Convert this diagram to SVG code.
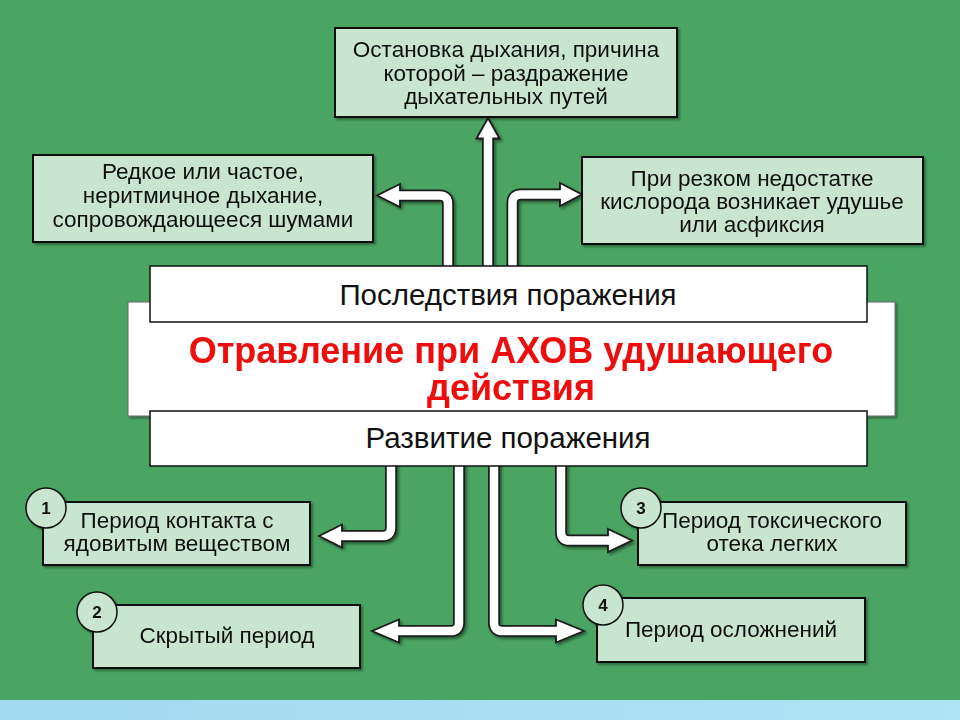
<svg xmlns="http://www.w3.org/2000/svg" width="960" height="720" viewBox="0 0 960 720">
  <defs>
    <linearGradient id="strip" x1="0" y1="0" x2="1" y2="0">
      <stop offset="0" stop-color="#a3d9f1"/>
      <stop offset="1" stop-color="#b0e2f5"/>
    </linearGradient>
    <filter id="shadow" x="-10%" y="-10%" width="130%" height="130%">
      <feDropShadow dx="2" dy="2" stdDeviation="1.5" flood-color="#000" flood-opacity="0.45"/>
    </filter>
    <filter id="boxshadow" x="-5%" y="-5%" width="115%" height="120%">
      <feDropShadow dx="2" dy="2" stdDeviation="1.2" flood-color="#000" flood-opacity="0.35"/>
    </filter>
  </defs>
  <style>
    .box { fill: #c8e6cf; stroke: #111; stroke-width: 2; }
    .wbox { fill: #ffffff; stroke: #111; stroke-width: 1.5; }
    .txt { font-family: "Liberation Sans", Arial, sans-serif; font-size: 22.5px; fill: #111; text-anchor: middle; }
    .mid { font-family: "Liberation Sans", Arial, sans-serif; font-size: 29.5px; fill: #111; text-anchor: middle; }
    .title { font-family: "Liberation Sans", Arial, sans-serif; font-size: 36px; font-weight: bold; fill: #ee1111; text-anchor: middle; }
    .num { font-family: "Liberation Sans", Arial, sans-serif; font-size: 17px; font-weight: bold; fill: #111; text-anchor: middle; }
    .circ { fill: #c8e6cf; stroke: #111; stroke-width: 1.5; }
    .sh-out { fill: none; stroke: #1a1a1a; stroke-width: 12; stroke-linejoin: round; }
    .sh-in { fill: none; stroke: #ffffff; stroke-width: 8.5; stroke-linejoin: round; }
    .head { fill: #ffffff; stroke: #1a1a1a; stroke-width: 1.8; stroke-linejoin: miter; }
  </style>

  <rect x="0" y="0" width="960" height="700" fill="#4aa563"/>
  <rect x="0" y="700" width="960" height="20" fill="url(#strip)"/>

  <g id="connectors" filter="url(#shadow)">
    <!-- up -->
    <path class="sh-out" d="M488,268 V138"/>
    <polygon class="head" points="476.5,138.5 488,118 499.5,138.5"/>
    <path class="sh-in" d="M488,268 V136"/>
    <!-- upper left -->
    <path class="sh-out" d="M448,268 V204 Q448,195.5 439.5,195.5 H400"/>
    <polygon class="head" points="400,184 377,195.5 400,207"/>
    <path class="sh-in" d="M448,268 V204 Q448,195.5 439.5,195.5 H398"/>
    <!-- upper right -->
    <path class="sh-out" d="M512.5,268 V203 Q512.5,194.5 521,194.5 H560"/>
    <polygon class="head" points="560,183 582,194.5 560,206"/>
    <path class="sh-in" d="M512.5,268 V203 Q512.5,194.5 521,194.5 H562"/>
    <!-- bottom 1 -->
    <path class="sh-out" d="M391,462 V527.5 Q391,536 382.5,536 H342"/>
    <polygon class="head" points="342,524.5 319,536 342,547.5"/>
    <path class="sh-in" d="M391,462 V527.5 Q391,536 382.5,536 H340"/>
    <!-- bottom 2 -->
    <path class="sh-out" d="M459,462 V622.5 Q459,631 450.5,631 H399"/>
    <polygon class="head" points="399,619.5 372,631 399,642.5"/>
    <path class="sh-in" d="M459,462 V622.5 Q459,631 450.5,631 H397"/>
    <!-- bottom 4 -->
    <path class="sh-out" d="M494,462 V622.5 Q494,631 502.5,631 H556"/>
    <polygon class="head" points="556,619.5 584,631 556,642.5"/>
    <path class="sh-in" d="M494,462 V622.5 Q494,631 502.5,631 H558"/>
    <!-- bottom 3 -->
    <path class="sh-out" d="M561,462 V532 Q561,540.5 569.5,540.5 H608"/>
    <polygon class="head" points="608,529 632,540.5 608,552"/>
    <path class="sh-in" d="M561,462 V532 Q561,540.5 569.5,540.5 H610"/>
  </g>

  <g id="node-top" filter="url(#boxshadow)">
    <rect class="box" x="335" y="28" width="342" height="89"/>
    <text class="txt" x="506" y="57">Остановка дыхания, причина</text>
    <text class="txt" x="506" y="81">которой – раздражение</text>
    <text class="txt" x="506" y="104">дыхательных путей</text>
  </g>

  <g id="node-left" filter="url(#boxshadow)">
    <rect class="box" x="33" y="155" width="340" height="87"/>
    <text class="txt" x="203" y="179">Редкое или частое,</text>
    <text class="txt" x="203" y="203">неритмичное дыхание,</text>
    <text class="txt" x="203" y="227">сопровождающееся шумами</text>
  </g>

  <g id="node-right" filter="url(#boxshadow)">
    <rect class="box" x="582" y="157" width="341" height="87"/>
    <text class="txt" x="752" y="186">При резком недостатке</text>
    <text class="txt" x="752" y="209">кислорода возникает удушье</text>
    <text class="txt" x="752" y="232">или асфиксия</text>
  </g>

  <g id="node-center" filter="url(#boxshadow)">
    <rect x="128" y="302" width="767" height="114" fill="#ffffff" stroke="#666" stroke-width="1"/>
    <text class="title"><tspan x="511" y="363">Отравление при АХОВ удушающего</tspan><tspan x="511" y="400">действия</tspan></text>
  </g>

  <g id="node-consequences">
    <rect class="wbox" x="150" y="266" width="717" height="56"/>
    <text class="mid" x="508" y="305">Последствия поражения</text>
  </g>

  <g id="node-development">
    <rect class="wbox" x="150" y="411" width="717" height="55"/>
    <text class="mid" x="508" y="448">Развитие поражения</text>
  </g>

  <g id="node-1" filter="url(#boxshadow)">
    <rect class="box" x="43" y="502" width="267" height="63"/>
    <text class="txt" x="177" y="528">Период контакта с</text>
    <text class="txt" x="177" y="551">ядовитым веществом</text>
    <circle class="circ" cx="46" cy="508" r="20"/>
    <text class="num" x="46" y="514">1</text>
  </g>

  <g id="node-2" filter="url(#boxshadow)">
    <rect class="box" x="93" y="605" width="267" height="63"/>
    <text class="txt" x="227" y="643">Скрытый период</text>
    <circle class="circ" cx="97" cy="612" r="20"/>
    <text class="num" x="97" y="618">2</text>
  </g>

  <g id="node-3" filter="url(#boxshadow)">
    <rect class="box" x="638" y="502" width="268" height="63"/>
    <text class="txt" x="772" y="528">Период токсического</text>
    <text class="txt" x="772" y="551">отека легких</text>
    <circle class="circ" cx="641" cy="508" r="20"/>
    <text class="num" x="641" y="514">3</text>
  </g>

  <g id="node-4" filter="url(#boxshadow)">
    <rect class="box" x="597" y="598" width="268" height="64"/>
    <text class="txt" x="731" y="637">Период осложнений</text>
    <circle class="circ" cx="603" cy="605" r="20"/>
    <text class="num" x="603" y="611">4</text>
  </g>
</svg>
